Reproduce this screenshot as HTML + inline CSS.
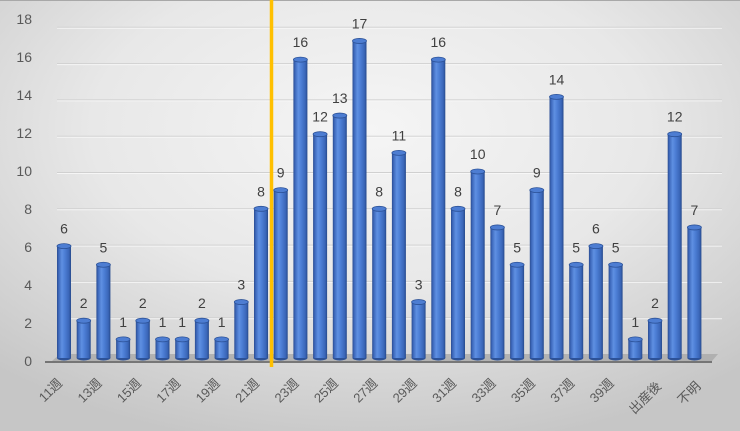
<!DOCTYPE html>
<html>
<head>
<meta charset="utf-8">
<style>
  html,body{margin:0;padding:0;}
  body{width:740px;height:431px;overflow:hidden;}
  svg{display:block;}
  text{font-family:"Liberation Sans","Noto Sans CJK JP",sans-serif;}
</style>
</head>
<body>
<svg width="740" height="431" viewBox="0 0 740 431" xmlns="http://www.w3.org/2000/svg">
  <defs>
    <radialGradient id="bg" cx="0.5" cy="0.3" r="0.75">
      <stop offset="0" stop-color="#f5f5f5"/>
      <stop offset="0.5" stop-color="#e8e8e8"/>
      <stop offset="1" stop-color="#c6c6c6"/>
    </radialGradient>
    <linearGradient id="cyl" x1="0" y1="0" x2="1" y2="0">
      <stop offset="0" stop-color="#2a4c90"/>
      <stop offset="0.12" stop-color="#3d68bb"/>
      <stop offset="0.35" stop-color="#5f90e2"/>
      <stop offset="0.55" stop-color="#4d7fd6"/>
      <stop offset="0.85" stop-color="#3a66b8"/>
      <stop offset="1" stop-color="#274a8c"/>
    </linearGradient>
  </defs>
  <rect x="0" y="0" width="740" height="431" fill="url(#bg)"/>
  <line x1="0" y1="0.5" x2="740" y2="0.5" stroke="#a8a8a8" stroke-width="1"/>

  <!-- gridlines -->
  <g stroke="#d0d0d0" stroke-width="1">
    <line x1="57" y1="317.7" x2="722" y2="317.7"/>
    <line x1="57" y1="281.4" x2="722" y2="281.4"/>
    <line x1="57" y1="245.1" x2="722" y2="245.1"/>
    <line x1="57" y1="208.8" x2="722" y2="208.8"/>
    <line x1="57" y1="172.5" x2="722" y2="172.5"/>
    <line x1="57" y1="136.2" x2="722" y2="136.2"/>
    <line x1="57" y1="99.9" x2="722" y2="99.9"/>
    <line x1="57" y1="63.6" x2="722" y2="63.6"/>
    <line x1="57" y1="27.3" x2="722" y2="27.3"/>
  </g>
  <g stroke="#fafafa" stroke-width="1" opacity="0.8">
    <line x1="57" y1="318.7" x2="722" y2="318.7"/>
    <line x1="57" y1="282.4" x2="722" y2="282.4"/>
    <line x1="57" y1="246.1" x2="722" y2="246.1"/>
    <line x1="57" y1="209.8" x2="722" y2="209.8"/>
    <line x1="57" y1="173.5" x2="722" y2="173.5"/>
    <line x1="57" y1="137.2" x2="722" y2="137.2"/>
    <line x1="57" y1="100.9" x2="722" y2="100.9"/>
    <line x1="57" y1="64.6" x2="722" y2="64.6"/>
    <line x1="57" y1="28.3" x2="722" y2="28.3"/>
  </g>

  <!-- floor -->
  <polygon points="52,361 60,354 718,354 712,361" fill="#a9a9a9" opacity="0.8"/>

  <!-- bar bottoms -->
  <g fill="#2d5298">
    <ellipse cx="64" cy="358" rx="7" ry="2.5"/>
    <ellipse cx="83.7" cy="358" rx="7" ry="2.5"/>
    <ellipse cx="103.4" cy="358" rx="7" ry="2.5"/>
    <ellipse cx="123.1" cy="358" rx="7" ry="2.5"/>
    <ellipse cx="142.8" cy="358" rx="7" ry="2.5"/>
    <ellipse cx="162.5" cy="358" rx="7" ry="2.5"/>
    <ellipse cx="182.2" cy="358" rx="7" ry="2.5"/>
    <ellipse cx="201.9" cy="358" rx="7" ry="2.5"/>
    <ellipse cx="221.6" cy="358" rx="7" ry="2.5"/>
    <ellipse cx="241.3" cy="358" rx="7" ry="2.5"/>
    <ellipse cx="261" cy="358" rx="7" ry="2.5"/>
    <ellipse cx="280.7" cy="358" rx="7" ry="2.5"/>
    <ellipse cx="300.4" cy="358" rx="7" ry="2.5"/>
    <ellipse cx="320.1" cy="358" rx="7" ry="2.5"/>
    <ellipse cx="339.8" cy="358" rx="7" ry="2.5"/>
    <ellipse cx="359.5" cy="358" rx="7" ry="2.5"/>
    <ellipse cx="379.2" cy="358" rx="7" ry="2.5"/>
    <ellipse cx="398.9" cy="358" rx="7" ry="2.5"/>
    <ellipse cx="418.6" cy="358" rx="7" ry="2.5"/>
    <ellipse cx="438.3" cy="358" rx="7" ry="2.5"/>
    <ellipse cx="458" cy="358" rx="7" ry="2.5"/>
    <ellipse cx="477.7" cy="358" rx="7" ry="2.5"/>
    <ellipse cx="497.4" cy="358" rx="7" ry="2.5"/>
    <ellipse cx="517.1" cy="358" rx="7" ry="2.5"/>
    <ellipse cx="536.8" cy="358" rx="7" ry="2.5"/>
    <ellipse cx="556.5" cy="358" rx="7" ry="2.5"/>
    <ellipse cx="576.2" cy="358" rx="7" ry="2.5"/>
    <ellipse cx="595.9" cy="358" rx="7" ry="2.5"/>
    <ellipse cx="615.6" cy="358" rx="7" ry="2.5"/>
    <ellipse cx="635.3" cy="358" rx="7" ry="2.5"/>
    <ellipse cx="655" cy="358" rx="7" ry="2.5"/>
    <ellipse cx="674.7" cy="358" rx="7" ry="2.5"/>
    <ellipse cx="694.4" cy="358" rx="7" ry="2.5"/>
  </g>

  <!-- bar bodies -->
  <g fill="url(#cyl)">
    <rect x="57" y="246.1" width="14" height="111.9"/>
    <rect x="76.7" y="320.7" width="14" height="37.3"/>
    <rect x="96.4" y="264.75" width="14" height="93.25"/>
    <rect x="116.1" y="339.35" width="14" height="18.65"/>
    <rect x="135.8" y="320.7" width="14" height="37.3"/>
    <rect x="155.5" y="339.35" width="14" height="18.65"/>
    <rect x="175.2" y="339.35" width="14" height="18.65"/>
    <rect x="194.9" y="320.7" width="14" height="37.3"/>
    <rect x="214.6" y="339.35" width="14" height="18.65"/>
    <rect x="234.3" y="302.05" width="14" height="55.95"/>
    <rect x="254" y="208.8" width="14" height="149.2"/>
    <rect x="273.7" y="190.15" width="14" height="167.85"/>
    <rect x="293.4" y="59.6" width="14" height="298.4"/>
    <rect x="313.1" y="134.2" width="14" height="223.8"/>
    <rect x="332.8" y="115.55" width="14" height="242.45"/>
    <rect x="352.5" y="40.95" width="14" height="317.05"/>
    <rect x="372.2" y="208.8" width="14" height="149.2"/>
    <rect x="391.9" y="152.85" width="14" height="205.15"/>
    <rect x="411.6" y="302.05" width="14" height="55.95"/>
    <rect x="431.3" y="59.6" width="14" height="298.4"/>
    <rect x="451" y="208.8" width="14" height="149.2"/>
    <rect x="470.7" y="171.5" width="14" height="186.5"/>
    <rect x="490.4" y="227.45" width="14" height="130.55"/>
    <rect x="510.1" y="264.75" width="14" height="93.25"/>
    <rect x="529.8" y="190.15" width="14" height="167.85"/>
    <rect x="549.5" y="96.9" width="14" height="261.1"/>
    <rect x="569.2" y="264.75" width="14" height="93.25"/>
    <rect x="588.9" y="246.1" width="14" height="111.9"/>
    <rect x="608.6" y="264.75" width="14" height="93.25"/>
    <rect x="628.3" y="339.35" width="14" height="18.65"/>
    <rect x="648" y="320.7" width="14" height="37.3"/>
    <rect x="667.7" y="134.2" width="14" height="223.8"/>
    <rect x="687.4" y="227.45" width="14" height="130.55"/>
  </g>

  <!-- bar caps -->
  <g fill="#4d7dd2" stroke="#2c5298" stroke-width="0.8">
    <ellipse cx="64" cy="246.1" rx="7" ry="2.5"/>
    <ellipse cx="83.7" cy="320.7" rx="7" ry="2.5"/>
    <ellipse cx="103.4" cy="264.75" rx="7" ry="2.5"/>
    <ellipse cx="123.1" cy="339.35" rx="7" ry="2.5"/>
    <ellipse cx="142.8" cy="320.7" rx="7" ry="2.5"/>
    <ellipse cx="162.5" cy="339.35" rx="7" ry="2.5"/>
    <ellipse cx="182.2" cy="339.35" rx="7" ry="2.5"/>
    <ellipse cx="201.9" cy="320.7" rx="7" ry="2.5"/>
    <ellipse cx="221.6" cy="339.35" rx="7" ry="2.5"/>
    <ellipse cx="241.3" cy="302.05" rx="7" ry="2.5"/>
    <ellipse cx="261" cy="208.8" rx="7" ry="2.5"/>
    <ellipse cx="280.7" cy="190.15" rx="7" ry="2.5"/>
    <ellipse cx="300.4" cy="59.6" rx="7" ry="2.5"/>
    <ellipse cx="320.1" cy="134.2" rx="7" ry="2.5"/>
    <ellipse cx="339.8" cy="115.55" rx="7" ry="2.5"/>
    <ellipse cx="359.5" cy="40.95" rx="7" ry="2.5"/>
    <ellipse cx="379.2" cy="208.8" rx="7" ry="2.5"/>
    <ellipse cx="398.9" cy="152.85" rx="7" ry="2.5"/>
    <ellipse cx="418.6" cy="302.05" rx="7" ry="2.5"/>
    <ellipse cx="438.3" cy="59.6" rx="7" ry="2.5"/>
    <ellipse cx="458" cy="208.8" rx="7" ry="2.5"/>
    <ellipse cx="477.7" cy="171.5" rx="7" ry="2.5"/>
    <ellipse cx="497.4" cy="227.45" rx="7" ry="2.5"/>
    <ellipse cx="517.1" cy="264.75" rx="7" ry="2.5"/>
    <ellipse cx="536.8" cy="190.15" rx="7" ry="2.5"/>
    <ellipse cx="556.5" cy="96.9" rx="7" ry="2.5"/>
    <ellipse cx="576.2" cy="264.75" rx="7" ry="2.5"/>
    <ellipse cx="595.9" cy="246.1" rx="7" ry="2.5"/>
    <ellipse cx="615.6" cy="264.75" rx="7" ry="2.5"/>
    <ellipse cx="635.3" cy="339.35" rx="7" ry="2.5"/>
    <ellipse cx="655" cy="320.7" rx="7" ry="2.5"/>
    <ellipse cx="674.7" cy="134.2" rx="7" ry="2.5"/>
    <ellipse cx="694.4" cy="227.45" rx="7" ry="2.5"/>
  </g>

  <line x1="45" y1="362" x2="712" y2="362" stroke="#595959" stroke-width="1.5"/>

  <!-- y axis labels -->
  <g fill="#595959" font-size="14" text-anchor="end">
    <text x="32" y="366">0</text>
    <text x="32" y="328">2</text>
    <text x="32" y="290">4</text>
    <text x="32" y="252">6</text>
    <text x="32" y="214">8</text>
    <text x="32" y="176">10</text>
    <text x="32" y="138">12</text>
    <text x="32" y="100">14</text>
    <text x="32" y="62">16</text>
    <text x="32" y="24">18</text>
  </g>

  <!-- data labels -->
  <g fill="#404040" font-size="14" text-anchor="middle">
    <text x="64" y="233.6">6</text>
    <text x="83.7" y="308.2">2</text>
    <text x="103.4" y="252.25">5</text>
    <text x="123.1" y="326.85">1</text>
    <text x="142.8" y="308.2">2</text>
    <text x="162.5" y="326.85">1</text>
    <text x="182.2" y="326.85">1</text>
    <text x="201.9" y="308.2">2</text>
    <text x="221.6" y="326.85">1</text>
    <text x="241.3" y="289.55">3</text>
    <text x="261" y="196.3">8</text>
    <text x="280.7" y="177.65">9</text>
    <text x="300.4" y="47.1">16</text>
    <text x="320.1" y="121.7">12</text>
    <text x="339.8" y="103.05">13</text>
    <text x="359.5" y="28.45">17</text>
    <text x="379.2" y="196.3">8</text>
    <text x="398.9" y="140.35">11</text>
    <text x="418.6" y="289.55">3</text>
    <text x="438.3" y="47.1">16</text>
    <text x="458" y="196.3">8</text>
    <text x="477.7" y="159">10</text>
    <text x="497.4" y="214.95">7</text>
    <text x="517.1" y="252.25">5</text>
    <text x="536.8" y="177.65">9</text>
    <text x="556.5" y="84.4">14</text>
    <text x="576.2" y="252.25">5</text>
    <text x="595.9" y="233.6">6</text>
    <text x="615.6" y="252.25">5</text>
    <text x="635.3" y="326.85">1</text>
    <text x="655" y="308.2">2</text>
    <text x="674.7" y="121.7">12</text>
    <text x="694.4" y="214.95">7</text>
  </g>

  <!-- x axis labels -->
  <g fill="#595959" font-size="13" text-anchor="end">
    <text x="63" y="384" transform="rotate(-45 63 384)">11週</text>
    <text x="102.4" y="384" transform="rotate(-45 102.4 384)">13週</text>
    <text x="141.8" y="384" transform="rotate(-45 141.8 384)">15週</text>
    <text x="181.2" y="384" transform="rotate(-45 181.2 384)">17週</text>
    <text x="220.6" y="384" transform="rotate(-45 220.6 384)">19週</text>
    <text x="260" y="384" transform="rotate(-45 260 384)">21週</text>
    <text x="299.4" y="384" transform="rotate(-45 299.4 384)">23週</text>
    <text x="338.8" y="384" transform="rotate(-45 338.8 384)">25週</text>
    <text x="378.2" y="384" transform="rotate(-45 378.2 384)">27週</text>
    <text x="417.6" y="384" transform="rotate(-45 417.6 384)">29週</text>
    <text x="457" y="384" transform="rotate(-45 457 384)">31週</text>
    <text x="496.4" y="384" transform="rotate(-45 496.4 384)">33週</text>
    <text x="535.8" y="384" transform="rotate(-45 535.8 384)">35週</text>
    <text x="575.2" y="384" transform="rotate(-45 575.2 384)">37週</text>
    <text x="614.6" y="384" transform="rotate(-45 614.6 384)">39週</text>
    <text x="662" y="387" transform="rotate(-45 662 387)">出産後</text>
    <text x="701.4" y="387" transform="rotate(-45 701.4 387)">不明</text>
  </g>

  <line x1="271.5" y1="0" x2="271.5" y2="367" stroke="#ffc000" stroke-width="3.5"/>
</svg>
</body>
</html>
